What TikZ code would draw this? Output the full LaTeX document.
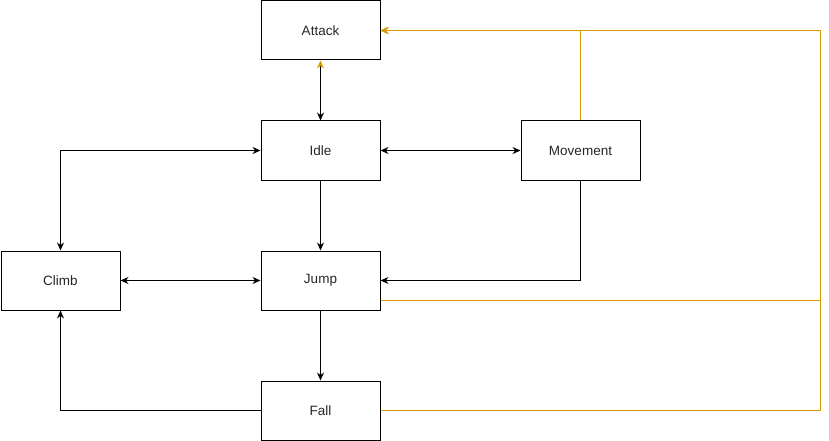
\documentclass[tikz,border=0pt]{standalone}
\usepackage{fontspec}
\setmainfont{Liberation Sans}
\usetikzlibrary{arrows.meta}
\definecolor{railorange}{RGB}{215,155,0}

\begin{document}
\begin{tikzpicture}[x=1pt, y=-1pt,
    state/.style={draw, line width=1pt, minimum width=119pt, minimum height=59pt,
                  inner sep=0pt, text=black!85, font=\fontsize{13.5}{16}\selectfont},
    link/.style={line width=1pt, -{Stealth[length=8pt,width=7pt]}},
    linkboth/.style={line width=1pt, {Stealth[length=8pt,width=7pt]}-{Stealth[length=8pt,width=7pt]}},
    rail/.style={line width=1pt, draw=railorange, -{Stealth[length=8pt,width=7pt,color=railorange]}}]
    \useasboundingbox (0,0) rectangle (829,441);
    \node[state] (attack) at (320.5,30.5) {Attack};
    \node[state] (idle) at (320.5,150.5) {Idle};
    \node[state] (movement) at (580.5,150.5) {Movement};
    \node[state] (climb) at (60.5,280.5) {Climb};
    \node[state] (jump) at (320.5,280.5) {Jump};
    \node[state] (fall) at (320.5,410.5) {Fall};
    \coordinate (railtop) at (820.5,30.5);
    % black transitions
    \draw[line width=1pt, {Stealth[length=8pt,width=7pt]}-{Stealth[length=8pt,width=7pt,color=railorange]}] (idle) -- (attack);
    \draw[linkboth] (idle) -- (movement);
    \draw[linkboth] (idle.west) -| (climb.north);
    \draw[link] (idle) -- (jump);
    \draw[link] (movement.south) |- (jump.east);
    \draw[linkboth] (climb) -- (jump);
    \draw[link] (jump) -- (fall);
    \draw[link] (fall.west) -| (climb.south);
    % orange transitions to attack
    \draw[rail] (movement.north) |- (attack.east);
    \draw[rail] ([yshift=-19.5pt]jump.east) -| (railtop) -- (attack.east);
    \draw[rail] (fall.east) -| (railtop) -- (attack.east);
\end{tikzpicture}
\end{document}
